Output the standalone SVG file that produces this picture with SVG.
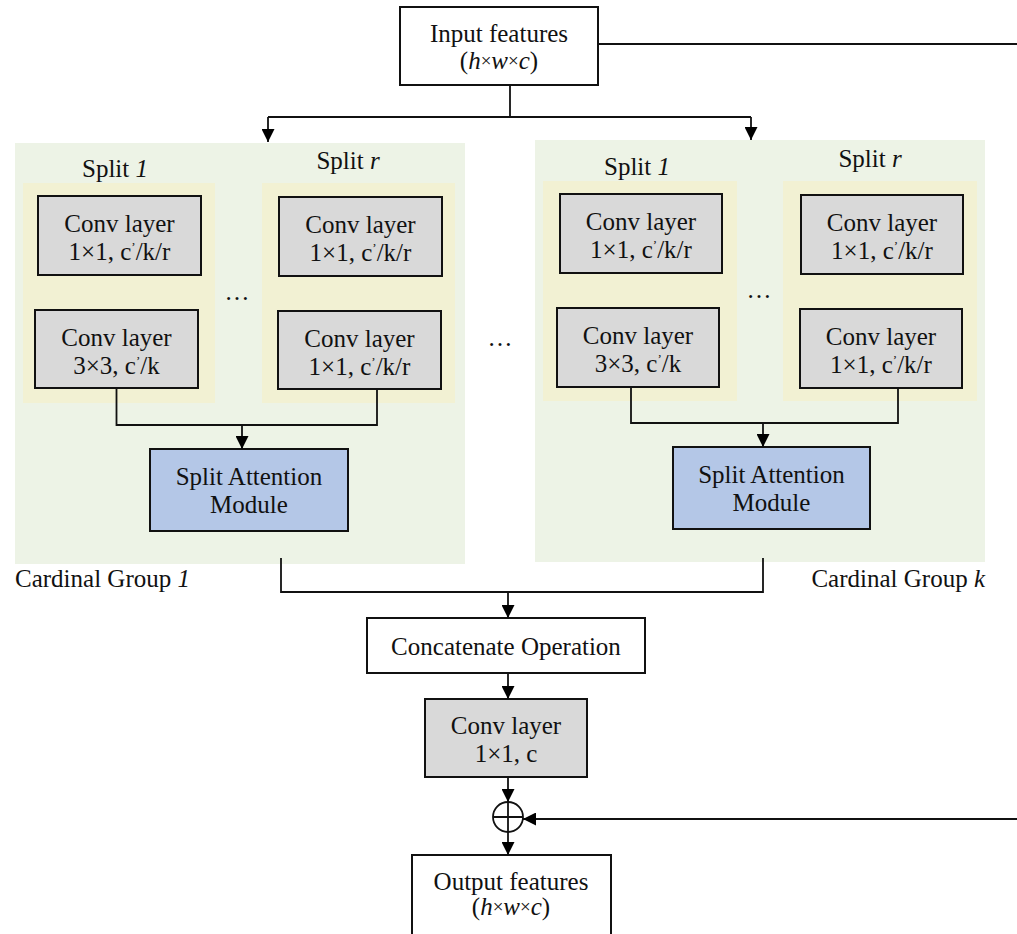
<svg xmlns="http://www.w3.org/2000/svg" width="1017" height="934" viewBox="0 0 1017 934">
<defs>
<marker id="arr" markerUnits="userSpaceOnUse" markerWidth="13" markerHeight="13" viewBox="0 0 13 13" refX="13" refY="6.5" orient="auto">
<path d="M0,0 L13,6.5 L0,13 z" fill="#000"/>
</marker>
<style>
text{font-family:"Liberation Serif","Times New Roman",serif;font-size:25px;fill:#111;text-anchor:middle}
.l{text-anchor:start}
.r{text-anchor:end}
.i{font-style:italic}
.x{font-size:19px}
.p{font-size:13px}
.grp{fill:#EDF3E6}
.spl{fill:#F2F1D3}
.conv{fill:#D9D9D9;stroke:#111;stroke-width:2}
.sam{fill:#B4C7E7;stroke:#111;stroke-width:2}
.wb{fill:#fff;stroke:#111;stroke-width:2}
.ln{fill:none;stroke:#111;stroke-width:1.8}
.ar{fill:none;stroke:#111;stroke-width:1.8;marker-end:url(#arr)}
</style>
</defs>
<rect width="1017" height="934" fill="#fff"/>

<g id="group1">
<rect class="grp" x="15" y="143" width="450" height="421"/>
<rect class="spl" x="23" y="183" width="192" height="220"/>
<rect class="spl" x="262" y="183" width="193" height="220"/>
<text x="115" y="177">Split <tspan class="i">1</tspan></text>
<text x="348" y="169">Split <tspan class="i">r</tspan></text>
<text x="237" y="300">…</text>
</g>
<g id="group1-conv1">
<rect class="conv" x="38" y="196" width="163" height="79"/>
<text x="119.5" y="232">Conv layer</text>
<text x="119.5" y="260">1×1, c<tspan class="p" dy="-9">’</tspan><tspan dy="9">/k/r</tspan></text>
</g>
<g id="group1-conv2">
<rect class="conv" x="35" y="310" width="163" height="78"/>
<text x="116.5" y="346">Conv layer</text>
<text x="116.5" y="374">3×3, c<tspan class="p" dy="-9">’</tspan><tspan dy="9">/k</tspan></text>
</g>
<g id="group1-conv3">
<rect class="conv" x="279" y="197" width="163" height="79"/>
<text x="360.5" y="233">Conv layer</text>
<text x="360.5" y="261">1×1, c<tspan class="p" dy="-9">’</tspan><tspan dy="9">/k/r</tspan></text>
</g>
<g id="group1-conv4">
<rect class="conv" x="278" y="311" width="163" height="78"/>
<text x="359.5" y="347">Conv layer</text>
<text x="359.5" y="375">1×1, c<tspan class="p" dy="-9">’</tspan><tspan dy="9">/k/r</tspan></text>
</g>
<g id="group1-sam">
<rect class="sam" x="150" y="449" width="198" height="82"/>
<text x="249" y="485">Split Attention</text>
<text x="249" y="513">Module</text>
</g>

<g id="groupk">
<rect class="grp" x="535" y="140" width="450" height="422"/>
<rect class="spl" x="543" y="181" width="194" height="220"/>
<rect class="spl" x="783" y="181" width="194" height="220"/>
<text x="637" y="175">Split <tspan class="i">1</tspan></text>
<text x="870" y="167">Split <tspan class="i">r</tspan></text>
<text x="759" y="298">…</text>
</g>
<g id="groupk-conv1">
<rect class="conv" x="560" y="194" width="162" height="79"/>
<text x="641" y="230">Conv layer</text>
<text x="641" y="258">1×1, c<tspan class="p" dy="-9">’</tspan><tspan dy="9">/k/r</tspan></text>
</g>
<g id="groupk-conv2">
<rect class="conv" x="557" y="308" width="162" height="79"/>
<text x="638" y="344">Conv layer</text>
<text x="638" y="372">3×3, c<tspan class="p" dy="-9">’</tspan><tspan dy="9">/k</tspan></text>
</g>
<g id="groupk-conv3">
<rect class="conv" x="801" y="195" width="162" height="79"/>
<text x="882" y="231">Conv layer</text>
<text x="882" y="259">1×1, c<tspan class="p" dy="-9">’</tspan><tspan dy="9">/k/r</tspan></text>
</g>
<g id="groupk-conv4">
<rect class="conv" x="800" y="309" width="162" height="79"/>
<text x="881" y="345">Conv layer</text>
<text x="881" y="373">1×1, c<tspan class="p" dy="-9">’</tspan><tspan dy="9">/k/r</tspan></text>
</g>
<g id="groupk-sam">
<rect class="sam" x="673" y="447" width="197" height="82"/>
<text x="771.5" y="483">Split Attention</text>
<text x="771.5" y="511">Module</text>
</g>

<g id="labels">
<text x="500" y="346">…</text>
<text class="l" x="15" y="587">Cardinal Group <tspan class="i">1</tspan></text>
<text class="r" x="985" y="587">Cardinal Group <tspan class="i">k</tspan></text>
</g>

<g id="input">
<rect class="wb" x="400" y="7" width="198" height="78"/>
<text x="499" y="42">Input features</text>
<text x="499" y="69">(<tspan class="i">h</tspan><tspan class="x" dy="-2">×</tspan><tspan class="i" dy="2">w</tspan><tspan class="x" dy="-2">×</tspan><tspan class="i" dy="2">c</tspan>)</text>
</g>

<g id="concat">
<rect class="wb" x="367" y="618" width="278" height="55"/>
<text x="506" y="655">Concatenate Operation</text>
</g>

<g id="conv-final">
<rect class="conv" x="425" y="699" width="162" height="78"/>
<text x="506" y="734">Conv layer</text>
<text x="506" y="762">1×1, c</text>
</g>

<g id="add">
<circle cx="508" cy="817" r="15" fill="#fff" stroke="#111" stroke-width="1.8"/>
<path class="ln" d="M493,817 H523 M508,802 V832"/>
</g>

<g id="output">
<rect class="wb" x="412" y="855" width="199" height="84"/>
<text x="511" y="890">Output features</text>
<text x="511" y="915">(<tspan class="i">h</tspan><tspan class="x" dy="-2">×</tspan><tspan class="i" dy="2">w</tspan><tspan class="x" dy="-2">×</tspan><tspan class="i" dy="2">c</tspan>)</text>
</g>

<g id="connectors">
<path class="ln" d="M598,44 H1017"/>
<path class="ln" d="M510,85 V117 M268,117 H751"/>
<path class="ar" d="M268,117 V142"/>
<path class="ar" d="M751,117 V140"/>
<path class="ln" d="M116.5,388 V425 H377 V389"/>
<path class="ar" d="M242,425 V449"/>
<path class="ln" d="M631,387 V423 H898 V388"/>
<path class="ar" d="M763,423 V447"/>
<path class="ln" d="M281,558 V592 H763 V558"/>
<path class="ar" d="M508,592 V618"/>
<path class="ar" d="M508,673 V699"/>
<path class="ar" d="M508,777 V802"/>
<path class="ar" d="M508,832 V855"/>
<path class="ar" d="M1017,819 H523"/>
</g>
</svg>
